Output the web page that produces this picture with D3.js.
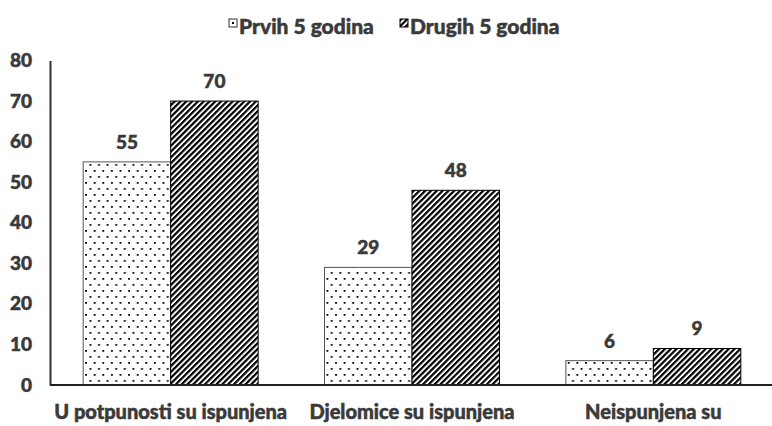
<!DOCTYPE html>
<html>
<head>
<meta charset="utf-8">
<script src="https://cdn.jsdelivr.net/npm/d3@7"></script>
<style>
  body { margin: 0; background: #fff; }
  svg { display: block; font-family: Lato, sans-serif; font-weight: 900; }
  svg text { stroke: #3a3a3a; stroke-width: 0.5px; }
</style>
</head>
<body>
<svg id="chart" width="772" height="426"></svg>
<script>
const categories = ['U potpunosti su ispunjena', 'Djelomice su ispunjena', 'Neispunjena su'];
const series = ['Prvih 5 godina', 'Drugih 5 godina'];
const firstFive = [55, 29, 6];
const secondFive = [70, 48, 9];
const yTicks = [0, 10, 20, 30, 40, 50, 60, 70, 80];

const values = [firstFive, secondFive];
const textColor = '#3a3a3a';

const svg = d3.select('#chart');
const defs = svg.append('defs');

// dotted pattern (staggered dots)
const dots = defs.append('pattern')
  .attr('id', 'dots')
  .attr('patternUnits', 'userSpaceOnUse')
  .attr('width', 8.6).attr('height', 12);
dots.append('rect').attr('width', 8.6).attr('height', 12).attr('fill', '#fff');
dots.append('rect').attr('x', 2).attr('y', 2).attr('width', 1.8).attr('height', 1.8).attr('fill', '#000');
dots.append('rect').attr('x', 6.3).attr('y', 8).attr('width', 1.8).attr('height', 1.8).attr('fill', '#000');

// diagonal hatch pattern
const hatch = defs.append('pattern')
  .attr('id', 'hatch')
  .attr('patternUnits', 'userSpaceOnUse')
  .attr('width', 4.1).attr('height', 10)
  .attr('patternTransform', 'rotate(45)');
hatch.append('rect').attr('width', 4.1).attr('height', 10).attr('fill', '#fff');
hatch.append('rect').attr('width', 2.2).attr('height', 10).attr('fill', '#000');

const fills = ['url(#dots)', 'url(#hatch)'];

const x0 = d3.scaleBand()
  .domain(categories)
  .range([50, 774])
  .paddingInner(0.275)
  .paddingOuter(0.1375);

const x1 = d3.scaleBand()
  .domain(series)
  .range([0, x0.bandwidth()]);

const y = d3.scaleLinear()
  .domain([0, 80])
  .range([385, 60.5]);

// bars
categories.forEach((cat, i) => {
  const g = svg.append('g').attr('transform', `translate(${x0(cat)},0)`);
  series.forEach((s, j) => {
    const v = values[j][i];
    g.append('rect')
      .attr('x', x1(s))
      .attr('y', y(v))
      .attr('width', x1.bandwidth())
      .attr('height', y(0) - y(v))
      .attr('fill', fills[j])
      .attr('stroke', j === 0 ? '#555' : '#000')
      .attr('stroke-width', 1);
    g.append('text')
      .attr('x', x1(s) + x1.bandwidth() / 2)
      .attr('y', y(v) - 13)
      .attr('text-anchor', 'middle')
      .attr('font-size', 19)
      .attr('fill', textColor)
      .text(v);
  });
});

// y axis
const yAxis = svg.append('g')
  .attr('transform', 'translate(50,0)')
  .call(d3.axisLeft(y).tickValues(yTicks).tickSize(0).tickPadding(18));
yAxis.select('.domain').attr('stroke', '#333').attr('stroke-width', 2);
yAxis.selectAll('text')
  .attr('font-size', 19)
  .attr('font-family', 'Lato, sans-serif')
  .attr('font-weight', 900)
  .attr('fill', textColor);

// x axis baseline
svg.append('line')
  .attr('x1', 50).attr('x2', 772)
  .attr('y1', y(0)).attr('y2', y(0))
  .attr('stroke', '#222').attr('stroke-width', 2);

// category labels
svg.append('g').selectAll('text')
  .data(categories)
  .join('text')
  .attr('x', d => x0(d) + x0.bandwidth() / 2)
  .attr('y', 419)
  .attr('text-anchor', 'middle')
  .attr('font-size', 20)
  .attr('fill', textColor)
  .text(d => d);

// legend
const legendX = [229, 400];
const legend = svg.append('g');
series.forEach((s, j) => {
  const lg = legend.append('g').attr('transform', `translate(${legendX[j]},19)`);
  if (j === 0) {
    lg.append('rect').attr('width', 8).attr('height', 8)
      .attr('fill', '#fff').attr('stroke', '#333').attr('stroke-width', 1);
    lg.append('rect').attr('x', 3).attr('y', 3).attr('width', 2).attr('height', 2).attr('fill', '#000');
  } else {
    lg.append('rect').attr('width', 8).attr('height', 8).attr('fill', 'url(#hatch)')
      .attr('stroke', '#000').attr('stroke-width', 1);
  }
  lg.append('text')
    .attr('x', 10).attr('y', 15)
    .attr('font-size', 21)
    .attr('fill', textColor)
    .text(s);
});
</script>
</body>
</html>
